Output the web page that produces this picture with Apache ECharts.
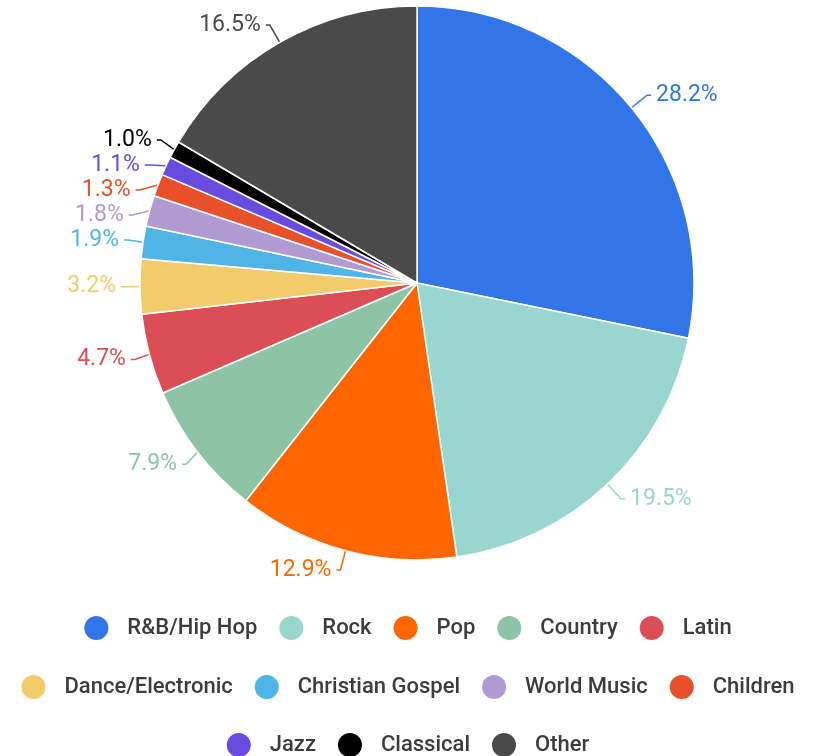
<!DOCTYPE html>
<html>
<head>
<meta charset="utf-8">
<script src="https://cdn.jsdelivr.net/npm/echarts@6/dist/echarts.min.js"></script>
<style>
  html, body { margin: 0; padding: 0; background: #fff; }
  #main { width: 814px; height: 756px; }
</style>
</head>
<body>
<div id="main"></div>
<script>
// genre names, shares (%) and slice colours
var genres = ['R&B/Hip Hop', 'Rock', 'Pop', 'Country', 'Latin', 'Dance/Electronic',
  'Christian Gospel', 'World Music', 'Children', 'Jazz', 'Classical', 'Other'];
var shares = [28.2, 19.5, 12.9, 7.9, 4.7, 3.2, 1.9, 1.8, 1.3, 1.1, 1.0, 16.5];
var colors = ['#3175e9', '#98d6cf', '#ff6600', '#8dc4a6', '#dc4e56', '#f2cc6b',
  '#4fb4e6', '#b09ad4', '#e8502a', '#6a4be0', '#000000', '#4a4a4a'];

// legend rows as in the picture
var legendRows = [genres.slice(0, 5), genres.slice(5, 9), genres.slice(9)];
var legendTops = [609, 668, 726];

var myChart = echarts.init(document.getElementById('main'));

let pieData = [];
for (let i = 0; i < genres.length; i++) {
  pieData.push({
    name: genres[i],
    value: shares[i],
    itemStyle: { color: colors[i] },
    label: { color: colors[i] }
  });
}

let legends = legendRows.map(function (row, i) {
  return {
    data: row,
    left: 'center',
    top: legendTops[i],
    orient: 'horizontal',
    icon: 'circle',
    itemWidth: 26,
    itemHeight: 26,
    itemGap: 20,
    selectedMode: false,
    textStyle: {
      fontFamily: 'Roboto',
      fontSize: 22,
      fontWeight: 500,
      color: '#3c3c3c',
      padding: [0, 0, 0, 13]
    }
  };
});

let option = {
  backgroundColor: '#fff',
  animation: false,
  legend: legends,
  series: [{
    type: 'pie',
    center: [417, 283],
    radius: 277,
    startAngle: 90,
    clockwise: true,
    avoidLabelOverlap: true,
    itemStyle: {
      borderColor: '#fff',
      borderWidth: 1.5
    },
    label: {
      show: true,
      position: 'outside',
      fontFamily: 'Roboto',
      fontSize: 23,
      formatter: function (p) { return p.value.toFixed(1) + '%'; }
    },
    labelLine: {
      length: 20,
      length2: 4,
      lineStyle: { width: 1.5 }
    },
    data: pieData
  }]
};

myChart.setOption(option);
</script>
</body>
</html>
